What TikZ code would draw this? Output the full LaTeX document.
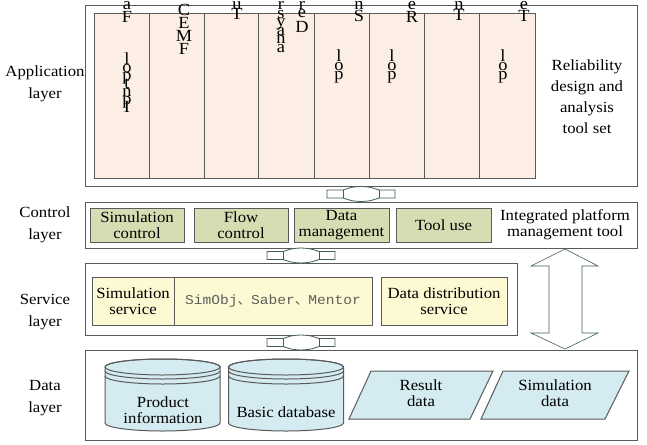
\documentclass[tikz,border=0pt]{standalone}
\usepackage{fontspec}
\usepackage{xcolor}
\setmainfont{Liberation Serif}[FakeStretch=1.08]
\newfontfamily\simfont{Liberation Mono}[FakeStretch=1.08]
\newfontfamily\cjk{Noto Sans CJK SC}
\definecolor{LAFrame}{HTML}{5A5A5A}
\definecolor{LAPeach}{HTML}{FCEEE4}
\definecolor{LAOlive}{HTML}{D5DEB3}
\definecolor{LAYellow}{HTML}{FCF9D3}
\definecolor{LABlue}{HTML}{D3EBF1}
\definecolor{LAArrow}{HTML}{41604F}
\definecolor{LAGrey}{HTML}{5E5E5E}
\lineskiplimit=-20pt

\begin{document}
\begin{tikzpicture}[x=1pt,y=-1pt,
  every node/.style={inner sep=0pt},
  frame/.style={draw=LAFrame,line width=1pt},
  layerbox/.style={frame,fill=white},
  tier/.style={align=center,font=\fontsize{15.5}{22}\selectfont},
  plain/.style={align=center,font=\fontsize{15.5}{16.5}\selectfont},
  ctrlbox/.style={frame,plain,fill=LAOlive,minimum height=34pt},
  svcbox/.style={frame,plain,fill=LAYellow,minimum height=48pt},
  datashape/.style={frame,fill=LABlue},
  garble/.style={anchor=north,align=center,font=\fontsize{17}{9}\selectfont},
  blockarrow/.style={draw=LAArrow,line width=.8pt,fill=white}]
\path[use as bounding box] (0,0) rectangle (647,444);
\fill[white] (0,0) rectangle (647,444);

% application layer
\draw[layerbox] (85,6) rectangle (637,186);
\foreach \xa/\xb in {94/149,149/204,204/258,258/314,314/369,369/424,424/479,479/535}
  \draw[frame,fill=LAPeach] (\xa,14) rectangle (\xb,178);
\node[garble,font=\fontsize{17}{13}\selectfont] (g1) at (127,1.5) {a\\F};
\node[garble,font=\fontsize{17}{8}\selectfont] (g1b) at (127,53) {l\\o\\p\\t\\n\\p\\I};
\node[garble,font=\fontsize{17}{13}\selectfont] (g2) at (184,4) {C\\E\\M\\F};
\node[garble,font=\fontsize{17}{10}\selectfont] (g3) at (237,1.5) {u\\T};
\node[garble,font=\fontsize{17}{8.5}\selectfont] (g4) at (281,1.5) {r\\s\\y\\a\\n\\a};
\node[garble,font=\fontsize{17}{8}\selectfont] (g4b) at (302,1.5) {r\\e};
\node[garble] (g4c) at (302,21) {D};
\node[garble,font=\fontsize{17}{12}\selectfont] (g5) at (359,1.5) {n\\S};
\node[garble,font=\fontsize{17}{13}\selectfont] (g6) at (412,1.5) {e\\R};
\node[garble,font=\fontsize{17}{11}\selectfont] (g7) at (459,1.5) {n\\T};
\node[garble,font=\fontsize{17}{12}\selectfont] (g8) at (524,1.5) {e\\T};
\node[garble] (lop5) at (339,50) {l\\o\\p};
\node[garble] (lop6) at (392,50) {l\\o\\p};
\node[garble] (lop8) at (503,50) {l\\o\\p};
\node[tier,font=\fontsize{15.5}{21}\selectfont] (toolset) at (587,97) {Reliability\\design and\\analysis\\tool set};

% control layer
\draw[layerbox] (85,202) rectangle (637,248);
\node[ctrlbox,minimum width=94pt] (simctrl) at (137,225) {Simulation\\control};
\node[ctrlbox,minimum width=94pt] (flowctrl) at (241,225) {Flow\\control};
\node[ctrlbox,minimum width=95pt] (datamgmt) at (341.5,225) {Data\\management};
\node[ctrlbox,minimum width=95pt] (tooluse) at (443.5,225) {Tool use};
\node[plain] (platform) at (565,224.5) {Integrated platform\\management tool};

% service layer
\draw[layerbox] (85,263) rectangle (517,335);
\node[svcbox,minimum width=82pt] (simsvc) at (133,301) {Simulation\\service};
\node[svcbox,minimum width=198pt,text=LAGrey] (simobj) at (273,301)
  {\fontsize{13.5}{15}\simfont SimObj{\cjk 、}Saber{\cjk 、}Mentor};
\node[svcbox,minimum width=126pt] (datadist) at (444,301) {Data distribution\\service};

% data layer
\draw[layerbox] (85,350) rectangle (637,440);
\foreach \cx in {162.5,286}{
  \filldraw[datashape] (\cx-57.5,367) -- (\cx-57.5,423)
    arc[start angle=180,end angle=360,x radius=57.5pt,y radius=8pt] -- (\cx+57.5,367)
    arc[start angle=0,end angle=180,x radius=57.5pt,y radius=8pt] -- cycle;
  \draw[frame] (\cx,367) ellipse[x radius=57.5pt,y radius=8pt];
  \draw[frame] (\cx-57.5,371) arc[start angle=180,end angle=360,x radius=57.5pt,y radius=8pt];
  \draw[frame] (\cx-57.5,376) arc[start angle=180,end angle=360,x radius=57.5pt,y radius=8pt];
}
\node[plain] (product) at (163,410) {Product\\information};
\node[plain] (basicdb) at (286,412) {Basic database};
\filldraw[datashape] (349,419) -- (371,371) -- (493,371) -- (470,419) -- cycle;
\node[plain] (result) at (421,393) {Result\\data};
\filldraw[datashape] (481,419) -- (503,371) -- (629,371) -- (605,419) -- cycle;
\node[plain] (simdata) at (555,393) {Simulation\\data};

% layer names
\node[tier] (applbl) at (45,84) {Application\\layer};
\node[tier] (ctrllbl) at (45,225) {Control\\layer};
\node[tier] (svclbl) at (45,312) {Service\\layer};
\node[tier] (datalbl) at (45,398) {Data\\layer};

% interface arrows
\foreach \cx/\cy in {361/194,301/255.5,301/342.5}{
  \draw[blockarrow] (\cx-34,\cy-4) -- (\cx-18,\cy-4) .. controls (\cx-9,\cy-7) .. (\cx,\cy-7.5)
    .. controls (\cx+9,\cy-7) .. (\cx+18,\cy-4) -- (\cx+34,\cy-4) -- (\cx+34,\cy+4) -- (\cx+18,\cy+4)
    .. controls (\cx+9,\cy+7) .. (\cx,\cy+7.5) .. controls (\cx-9,\cy+7) .. (\cx-18,\cy+4)
    -- (\cx-34,\cy+4) -- cycle;
  \draw[draw=LAArrow,line width=.8pt] (\cx-18,\cy-4) -- (\cx-18,\cy+4) (\cx+18,\cy-4) -- (\cx+18,\cy+4);
}
\draw[blockarrow,line width=.6pt] (565,249) -- (598,266) -- (582,266) -- (582,333) -- (598,333)
  -- (565,349) -- (531,333) -- (549,333) -- (549,266) -- (531,266) -- cycle;
\end{tikzpicture}
\end{document}
